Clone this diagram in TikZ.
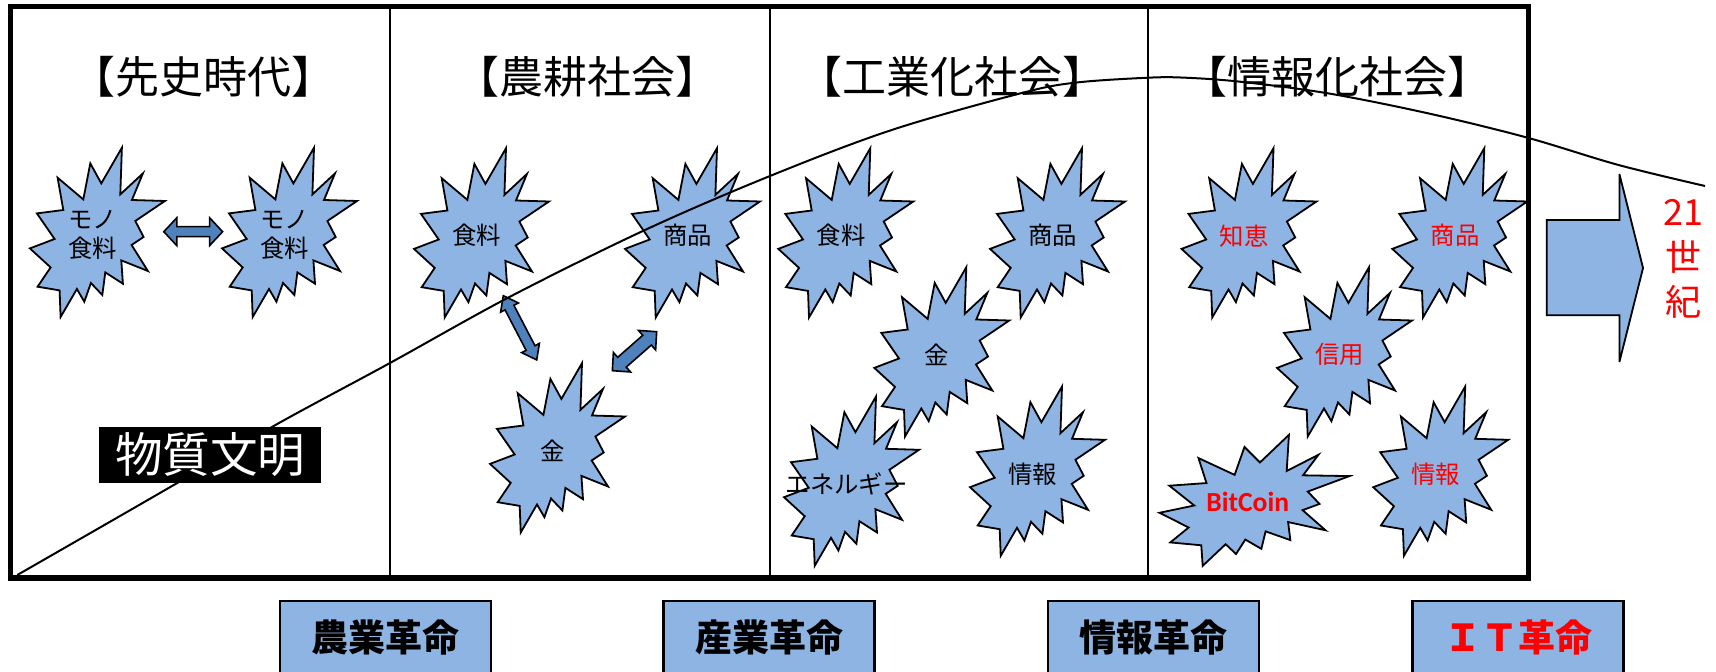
\documentclass[tikz,border=0pt]{standalone}
\usepackage{fontspec}
\usepackage[dvipsnames]{xcolor}
\setmainfont{Noto Sans CJK JP}
\newfontfamily\latinbold{Carlito}

\definecolor{burstblue}{RGB}{142,180,227}
\definecolor{arrowblue}{RGB}{79,129,189}

\newcommand{\burstpts}{(29.3,-90) -- (27.7,-43.3) -- (50.3,-64.3) -- (39.3,-37.7) -- (72.3,-36.7) -- (42.7,-16.7) -- (51,-0.7) -- (39,7.3) -- (55.3,33.3) -- (28.7,22.7) -- (30.3,46) -- (12.7,34.7) -- (9.7,57.3) -- (-1.7,45.3) -- (-8.3,64) -- (-15.7,51.3) -- (-32,79.3) -- (-33,52.7) -- (-55,49) -- (-42,29.7) -- (-62.7,10.7) -- (-38,1.3) -- (-55.7,-24.3) -- (-29.3,-27.7) -- (-35,-60) -- (-9.3,-38.3) -- (-2.3,-74.3) -- (8.7,-54.3) -- cycle}

\newcommand{\burst}[6][burst label]{
    \draw[burst, shift={(#3)}, yshift=-0.75pt, xscale=#4, yscale=#5] \burstpts;
    \node[#1, yshift=0.5pt] (#2) at (#3) {#6};
}

% half length, half head width, half shaft width, head length
\newcommand{\swaparrow}[6]{
    \draw[swap arrow, shift={(#1)}, rotate=#2] (-#3,0) -- (-#3+#6,-#4) -- (-#3+#6,-#5) -- (#3-#6,-#5) -- (#3-#6,-#4) -- (#3,0) -- (#3-#6,#4) -- (#3-#6,#5) -- (-#3+#6,#5) -- (-#3+#6,#4) -- cycle;
}

\begin{document}
\begin{tikzpicture}[x=0.5pt,y=-0.5pt,
    burst/.style={draw=black,line width=0.9pt,fill=burstblue,miter limit=20},
    burst label/.style={inner sep=0pt,align=center,font=\fontsize{12.2}{14.6}\selectfont},
    red label/.style={burst label,text=red},
    title/.style={inner sep=0pt,font=\fontsize{22}{26}\selectfont},
    era box/.style={draw=black,line width=1.2pt,fill=burstblue,minimum width=105.5pt,minimum height=36.5pt,inner sep=0pt,font=\fontsize{18.5}{22}\selectfont\bfseries},
    swap arrow/.style={draw=black,line width=0.8pt,fill=arrowblue,miter limit=10}]

    \useasboundingbox (0,0) rectangle (1716,672);

    \draw[line width=2.75pt,miter limit=10] (10.5,6.7) rectangle (1528.3,578);
    \draw[line width=1pt] (390,6.7) -- (390,578);
    \draw[line width=1pt] (769.6,6.7) -- (769.6,578);
    \draw[line width=1pt] (1148.4,6.7) -- (1148.4,578);

    \node[title] (era1) at (203,77) {【先史時代】};
    \node[title] (era2) at (587,77) {【農耕社会】};
    \node[title] (era3) at (952,77) {【工業化社会】};
    \node[title] (era4) at (1337,77) {【情報化社会】};

    % first column
    \burst{mono1}{92.6,236.2}{1}{1}{モノ\\食料}
    \burst{mono2}{284.7,236.2}{1}{1}{モノ\\食料}
    \swaparrow{193.2,231.7}{0}{29.4}{13.9}{5}{13}

    % second column
    \burst{food2}{476.7,236.7}{1}{1}{食料}
    \burst{goods2}{687.7,236.7}{1}{1}{商品}
    \burst{gold2}{552.7,451.7}{1}{1}{金}
    \swaparrow{520,327.8}{-62.5}{36.2}{10}{5}{13.4}
    \swaparrow{634.5,351.2}{41.3}{29.5}{13}{6.5}{12.8}

    % third column
    \burst{food3}{841,236.7}{1}{1}{食料}
    \burst{goods3}{1052.7,236.7}{1}{1}{商品}
    \burst{gold3}{937,355.7}{1}{1}{金}
    \burst{power3}{846.7,485}{1}{1}{エネルギー}
    \burst{info3}{1032.7,475}{1}{1}{情報}

    % fourth column
    \burst[red label]{wisdom4}{1244.2,236.7}{1}{1}{知恵}
    \burst[red label]{goods4}{1455,236.7}{1}{1}{商品}
    \burst[red label]{credit4}{1339.7,355.7}{1}{1}{信用}
    \burst[red label]{coin4}{1247.7,503}{1.407}{0.774}{\latinbold\bfseries\fontsize{13.8}{16}\selectfont BitCoin}
    \burst[red label]{info4}{1435.9,475}{1}{1}{情報}

    \draw[draw=black,line width=0.9pt,fill=burstblue,miter limit=4] (1546.7,220) -- (1619.4,220) -- (1619.4,174) -- (1643,268) -- (1619.4,362) -- (1619.4,315.3) -- (1546.7,315.3) -- cycle;
    \node[inner sep=0pt,align=center,text=red,font=\fontsize{18}{22.5}\selectfont] (century) at (1683,259) {21\\世\\紀};

    \draw[line width=1pt] plot[smooth,tension=0.55] coordinates {(17.3,575) (176.7,483.3) (275.5,425) (390,363) (510,296.7) (645,230) (770,176) (891.7,130) (1020.6,93.3) (1075,82.7) (1148.4,77.7) (1185,77.7) (1240,81.7) (1327.7,93.3) (1426.5,113) (1526,137.3) (1618.5,165) (1705,186)};

    \node[fill=black,text=white,inner sep=0pt,minimum width=111.2pt,minimum height=28pt,font=\fontsize{23.8}{27}\selectfont] (matter) at (210.2,455) {物質文明};

    \node[era box] (rev1) at (385.2,637.5) {農業革命};
    \node[era box] (rev2) at (769,637.5) {産業革命};
    \node[era box] (rev3) at (1153.4,637.5) {情報革命};
    \node[era box,text=red] (rev4) at (1518,637.5) {ＩＴ革命};
\end{tikzpicture}
\end{document}
